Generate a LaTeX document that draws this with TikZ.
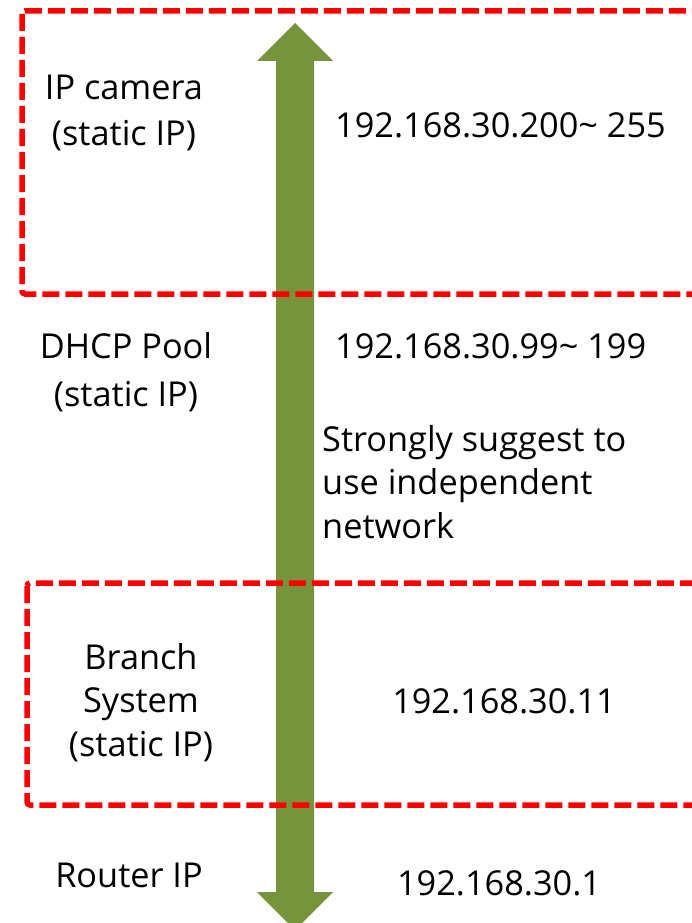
\documentclass[tikz,border=0pt]{standalone}
\usepackage{fontspec}
\setmainfont{Open Sans}
\definecolor{arrowgreen}{RGB}{119,147,60}
\definecolor{boxred}{RGB}{255,0,0}
\tikzset{
  zonebox/.style={draw=boxred, line width=5.5pt, dash pattern=on 17pt off 6pt, rounded corners=3pt},
  lbl/.style={inner sep=0pt, font=\fontsize{34.3}{45}\selectfont, align=center, anchor=base},
  iptxt/.style={inner sep=0pt, font=\fontsize{34.3}{45}\selectfont},
  bigarrow/.style={fill=arrowgreen, draw=none}
}
\begin{document}
\begin{tikzpicture}[x=1pt,y=-1pt]
\useasboundingbox (0,0) rectangle (692,923);
\clip (0,0) rectangle (692,923);
% double arrow
\coordinate (top) at (295,23);
\coordinate (bot) at (295,930);
\fill[bigarrow] (top) -- (333,61) -- (314,61) -- (314,892) -- (333,892) -- (bot)
  -- (257,892) -- (276,892) -- (276,61) -- (257,61) -- cycle;
% dashed zones
\draw[zonebox] (22,11) rectangle (730,294);
\draw[zonebox] (27,583) rectangle (730,805);
% labels (base anchor = baseline of the last line)
\node[lbl, font=\fontsize{34.3}{47}\selectfont] (cam) at (124,146) {IP camera\\(static IP)};
\node[lbl, font=\fontsize{34.3}{48}\selectfont] (dhcp) at (126,406) {DHCP Pool\\(static IP)};
\node[lbl, font=\fontsize{34.3}{43.5}\selectfont] (branch) at (141,756) {Branch\\System\\(static IP)};
\node[lbl] (router) at (129,887) {Router IP};
\node[iptxt, anchor=base west] (ipcam) at (335,138) {192.168.30.200\textasciitilde{} 255};
\node[iptxt, anchor=base west] (ipdhcp) at (335,358) {192.168.30.99\textasciitilde{} 199};
\node[iptxt, anchor=base west, align=left, font=\fontsize{34.3}{43.5}\selectfont] (note) at (322,538) {Strongly suggest to\\use independent\\network};
\node[iptxt, anchor=base] (ipbranch) at (504,713) {192.168.30.11};
\node[iptxt, anchor=base] (iprouter) at (499,895) {192.168.30.1};
\end{tikzpicture}
\end{document}
